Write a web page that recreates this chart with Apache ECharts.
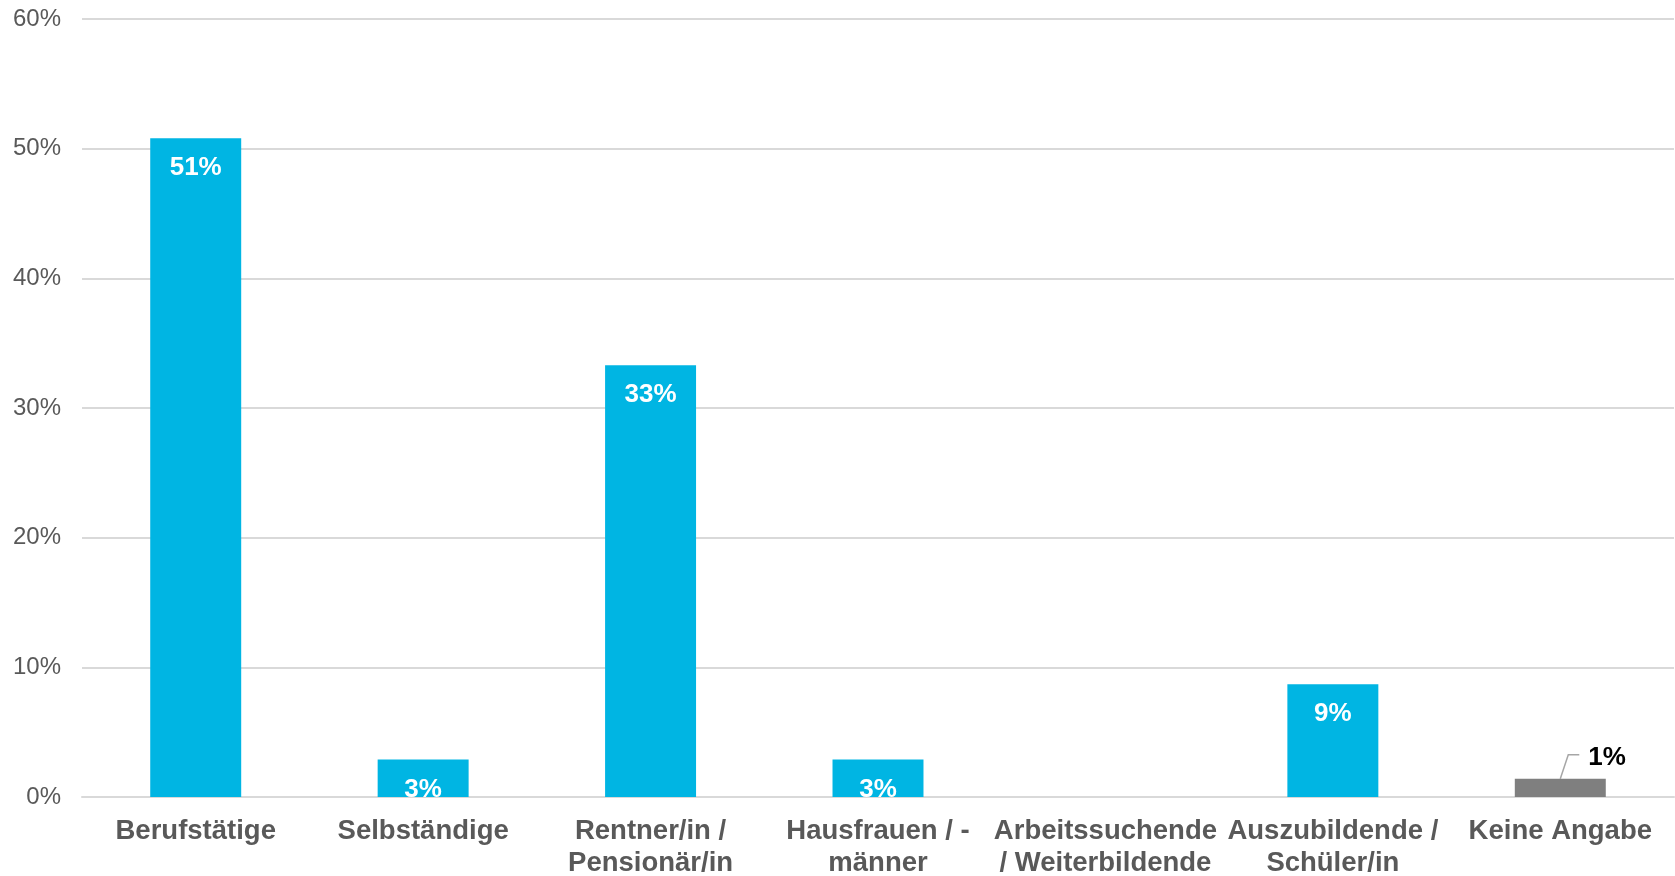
<!DOCTYPE html>
<html><head><meta charset="utf-8">
<script src="https://cdn.jsdelivr.net/npm/echarts@6/dist/echarts.min.js"></script>
<style>html,body{margin:0;padding:0;background:#fff}#c{width:1675px;height:876px}</style>
</head><body><div id="c"></div>
<script>
const categories = ['Berufstätige','Selbständige','Rentner/in /\nPensionär/in','Hausfrauen / -\nmänner','Arbeitssuchende\n/ Weiterbildende','Auszubildende /\nSchüler/in','Keine Angabe'];
const values = [50.8, 2.9, 33.3, 2.9, 0, 8.7, 1.4];
const valueLabels = ['51%','3%','33%','3%','','9%','1%'];
const barColors = ['#00B5E3','#00B5E3','#00B5E3','#00B5E3','#00B5E3','#00B5E3','#7F7F7F'];
const yTicks = [0,10,20,30,40,50,60];
const outsideIndex = 6;

const chart = echarts.init(document.getElementById('c'), null, {renderer:'canvas'});
const font = 'Liberation Sans, Arial, sans-serif';
chart.setOption({
  animation:false,
  grid:{left:82,right:1,top:19,bottom:79,containLabel:false,outerBoundsMode:'none'},
  xAxis:{type:'category',data:categories,
    axisLine:{lineStyle:{color:'#d9d9d9',width:2}},axisTick:{show:false},
    axisLabel:{interval:0,color:'#595959',fontFamily:font,fontWeight:'bold',fontSize:27.5,lineHeight:32,margin:18}},
  yAxis:{type:'value',min:yTicks[0],max:yTicks[yTicks.length-1],interval:10,
    axisLabel:{formatter:v=>v+'%',color:'#595959',fontFamily:font,fontSize:24,margin:21},
    splitLine:{lineStyle:{color:'#d9d9d9',width:2}},axisLine:{show:false},axisTick:{show:false}},
  series:[{type:'bar',barWidth:'40%',
    data:values.map((v,i)=>{
      const item={value:v,itemStyle:{color:barColors[i]},
        label:{show:valueLabels[i]!=='',formatter:valueLabels[i],position:'insideTop',distance:17,
          color:'#fff',fontFamily:font,fontWeight:'bold',fontSize:26}};
      if(i===outsideIndex){
        item.label={show:true,formatter:valueLabels[i],position:'top',
          color:'#000',fontFamily:font,fontWeight:'bold',fontSize:26};
      }
      return item;
    }),
    labelLayout:function(p){
      if(p.dataIndex===outsideIndex){
        return {x:p.rect.x+p.rect.width/2+28,y:p.rect.y-21,align:'left',verticalAlign:'middle'};
      }
      return {};
    }
  }]
});
const p = chart.convertToPixel({seriesIndex:0},[outsideIndex, values[outsideIndex]]);
chart.setOption({graphic:[{type:'polyline',silent:true,
  shape:{points:[[p[0],p[1]],[p[0]+8,p[1]-24],[p[0]+19,p[1]-24]]},
  style:{stroke:'#A6A6A6',lineWidth:1.5,fill:null}}]});
</script></body></html>
